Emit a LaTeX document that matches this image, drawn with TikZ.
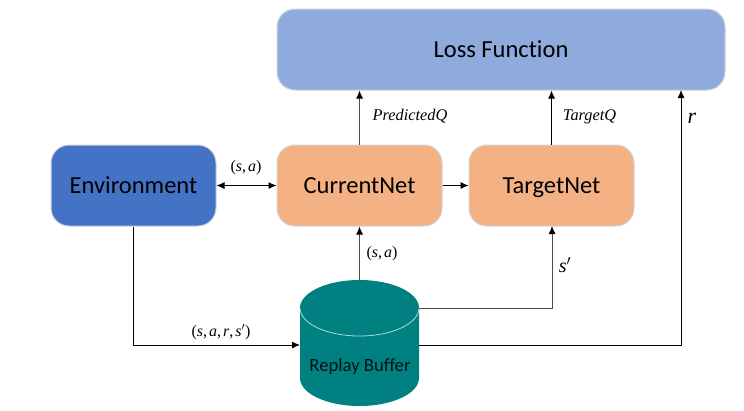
\documentclass[tikz,border=0pt]{standalone}
\usepackage{fontspec}
\setmainfont[Ligatures=NoCommon]{Carlito}
\newfontfamily\labelfont{Liberation Serif}
\usetikzlibrary{arrows.meta}
\definecolor{lossblue}{HTML}{8FAADC}
\definecolor{envblue}{HTML}{4472C4}
\definecolor{netorange}{HTML}{F4B183}
\definecolor{bufteal}{HTML}{008080}
\definecolor{edgegrey}{HTML}{CFD3DA}
\tikzset{
  box/.style={rectangle,rounded corners=18pt,draw=edgegrey,line width=1pt,inner sep=0pt,text=black,text height=16pt,text depth=1pt,font=\fontsize{24.5}{28}\selectfont},
  netbox/.style={box,fill=netorange,minimum width=165pt,minimum height=81pt},
  conn/.style={line width=0.9pt,draw=black,-{Latex[length=8pt,width=7pt]}},
  connboth/.style={conn,{Latex[length=8pt,width=7pt]}-{Latex[length=8pt,width=7pt]}},
  connsoft/.style={conn,draw=black!70,-{Latex[length=8pt,width=7pt,black]}},
  plainlab/.style={inner sep=0pt,font=\labelfont\itshape\fontsize{16.3}{19}\selectfont},
  mathlab/.style={inner sep=0pt,font=\labelfont\fontsize{16}{19}\selectfont}
}
\newcommand{\mv}[1]{\textit{#1}}
\begin{document}
\begin{tikzpicture}[x=1pt,y=-1pt]
\useasboundingbox (0,0) rectangle (744,410);
% boxes
\node[box,fill=lossblue,minimum width=448pt,minimum height=81pt] (loss) at (501,49.5) {Loss Function};
\node[netbox,fill=envblue] (env) at (133.5,185.5) {Environment};
\node[netbox] (cur) at (359.5,185.5) {CurrentNet};
\node[netbox] (tar) at (551.5,185.5) {TargetNet};
% cylinder
\path[fill=bufteal] (300,308) arc[x radius=59.5,y radius=28,start angle=180,end angle=360]
  -- (419,378) arc[x radius=59.5,y radius=28,start angle=0,end angle=180] -- cycle;
\draw[white!70!bufteal,line width=0.8pt] (300,308) arc[x radius=59.5,y radius=28,start angle=180,end angle=0];
\node[inner sep=0pt,text=black!85!bufteal,font=\fontsize{18.7}{22}\selectfont] (buf) at (360,367) {Replay Buffer};
\coordinate (bufTop) at (359.5,280);
\coordinate (bufIn) at (300,345);
\coordinate (bufOut) at (419,345);
\coordinate (bufRim) at (419,308);
\coordinate (lossR) at (681,90);
\coordinate (tarIn) at (552,226);
% connectors
\draw[connboth] (env.east) -- (cur.west);
\draw[conn] (cur.east) -- (tar.west);
\draw[connsoft] (cur.north) -- (cur.north |- loss.south);
\draw[conn] (tar.north) -- (tar.north |- loss.south);
\draw[connsoft] (bufTop) -- (bufTop |- cur.south);
\draw[conn] (env.south) |- (bufIn);
\draw[connsoft] (bufRim) -| (tarIn);
\draw[conn] (bufOut) -| (lossR);
% labels
\node[mathlab] (l1) at (246,168) {(\mv{s},\kern2pt\mv{a})};
\node[mathlab] (l2) at (382,254) {(\mv{s},\kern2pt\mv{a})};
\node[mathlab] (l3) at (221,332) {(\mv{s},\kern2pt\mv{a},\kern2pt\mv{r},\kern2pt\mv{s}$'$)};
\node[mathlab,font=\labelfont\fontsize{20}{24}\selectfont] (l4) at (565,265) {\mv{s}$'$};
\node[mathlab,font=\labelfont\fontsize{22}{26}\selectfont] (l5) at (692,118) {\mv{r}};
\node[plainlab] (l6) at (410,116.5) {PredictedQ};
\node[plainlab] (l7) at (589.5,116.5) {TargetQ};
\end{tikzpicture}
\end{document}
